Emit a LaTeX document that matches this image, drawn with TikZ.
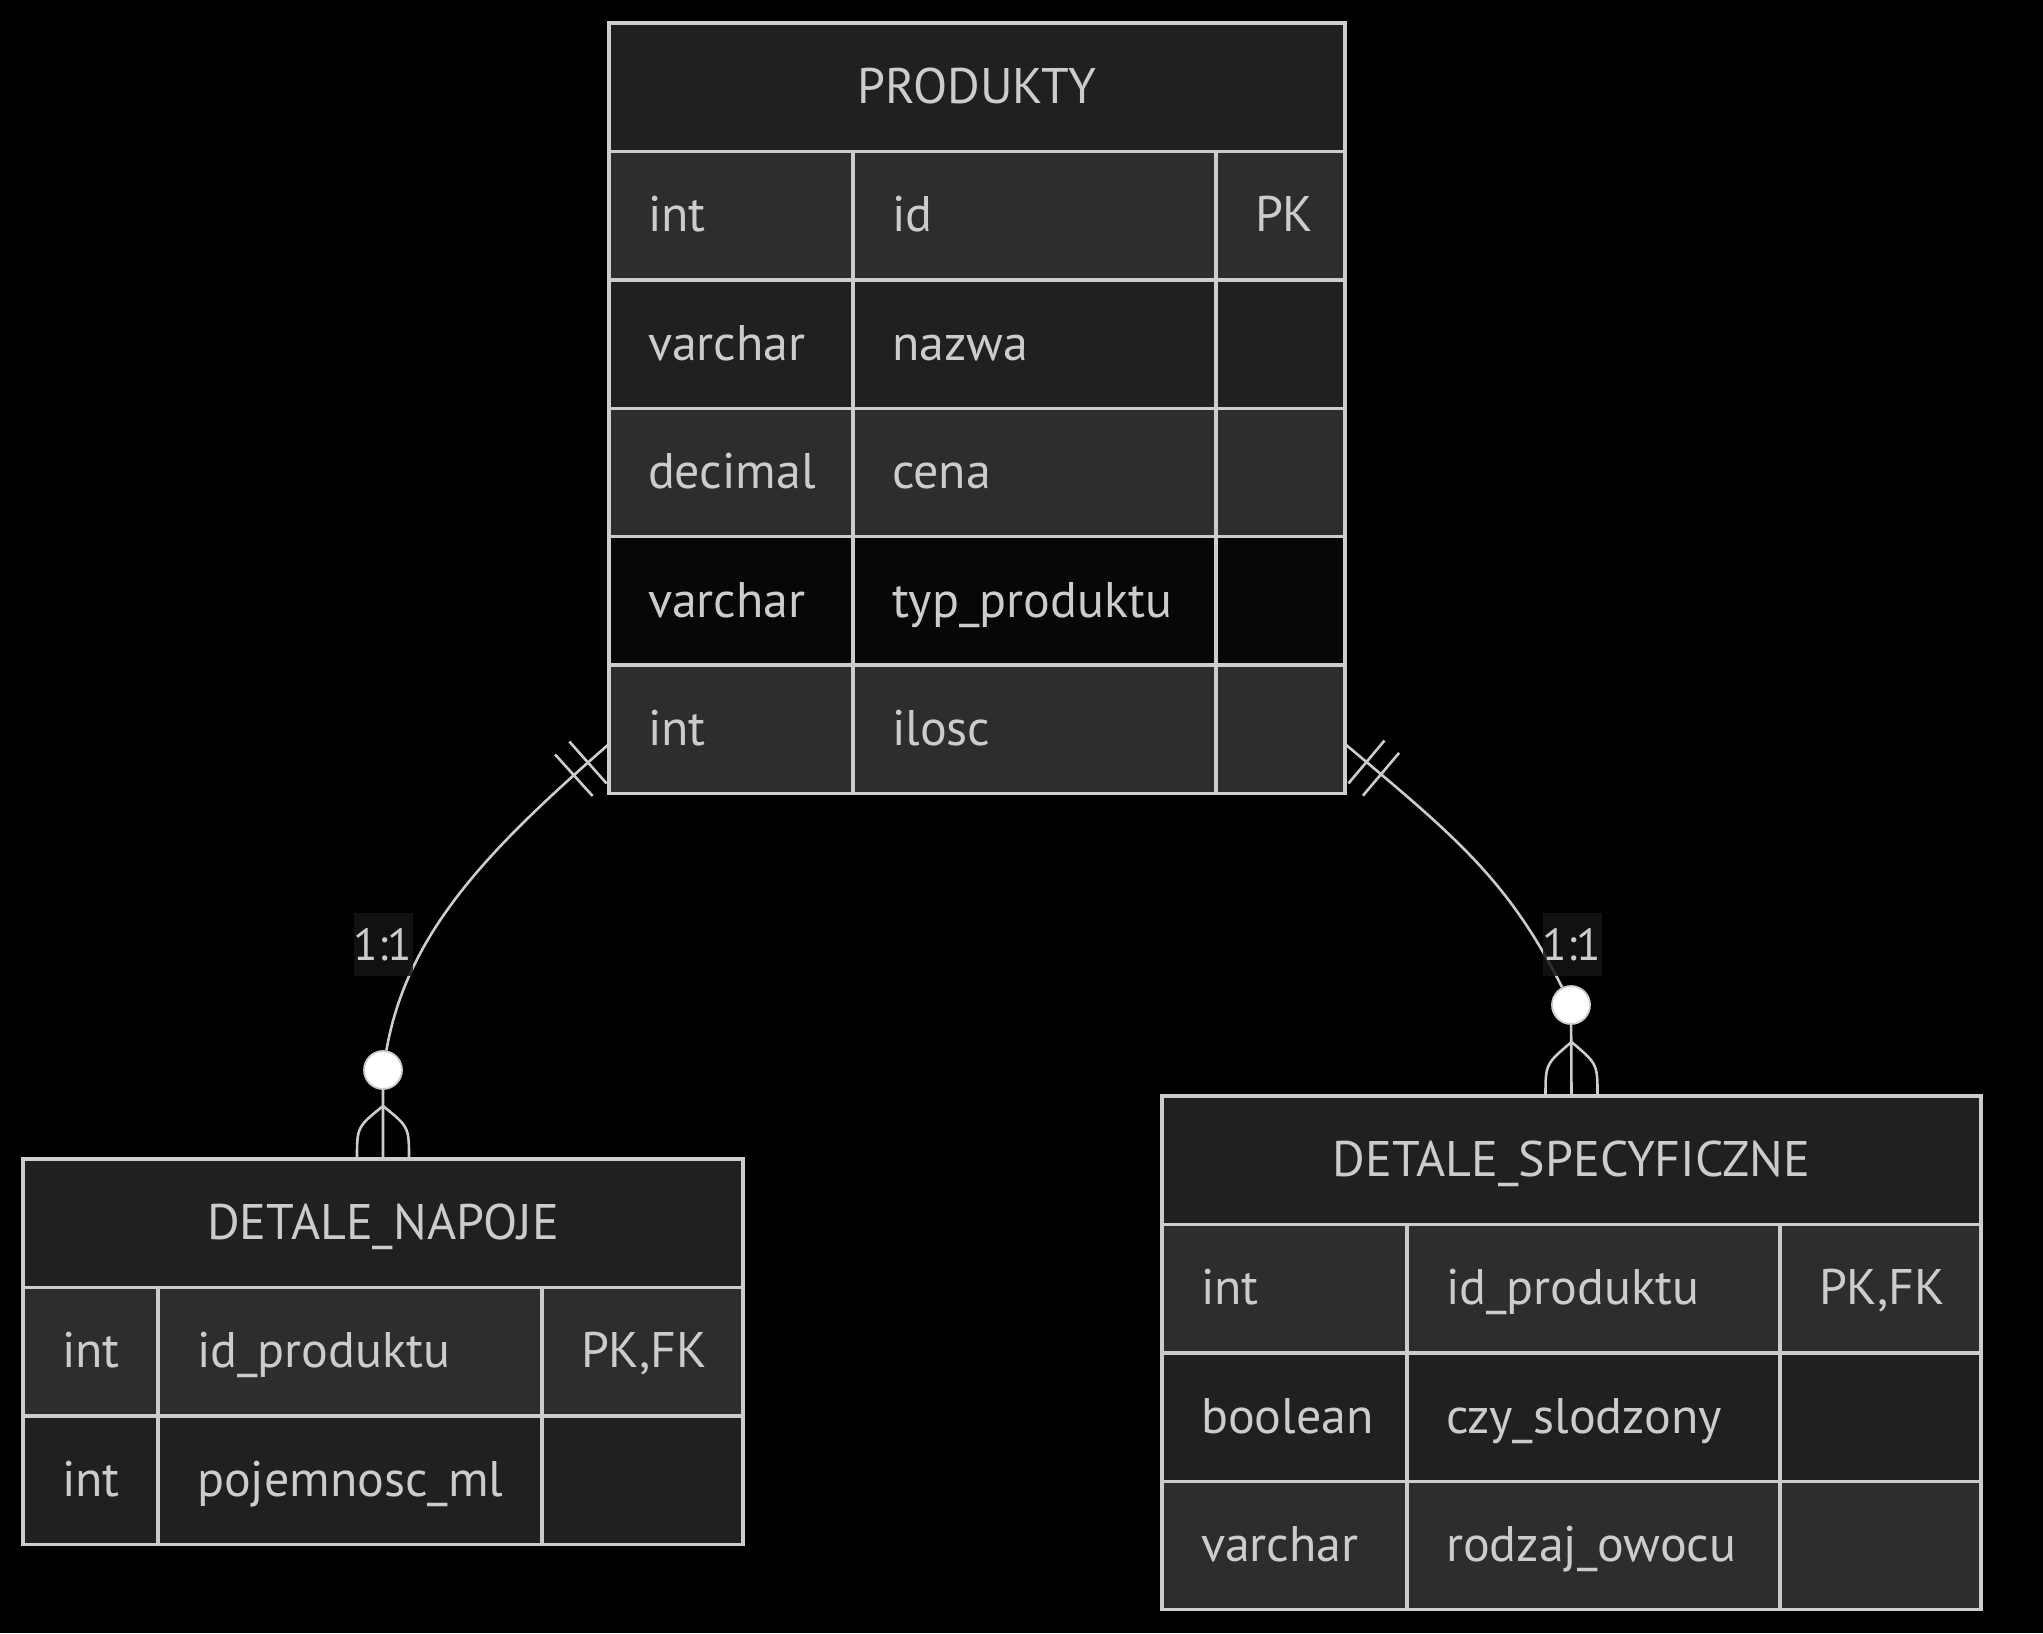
\documentclass[tikz,border=0pt]{standalone}
\usepackage{fontspec}
\setmainfont{PT Sans}
\usetikzlibrary{positioning}
\usetikzlibrary{decorations.markings}
\definecolor{linegray}{HTML}{CCCCCC}
\definecolor{rowlite}{HTML}{2C2D2D}
\definecolor{rowdark}{HTML}{1F2020}
\definecolor{rowblack}{HTML}{070707}
\definecolor{cardbg}{HTML}{141414}
\newcommand*{\erfont}{\fontsize{25pt}{30pt}\selectfont}
\newcommand*{\cardfont}{\fontsize{22.5pt}{27pt}\selectfont}

\begin{document}
\begin{tikzpicture}[x=0.5pt,y=-0.5pt]
        \tikzset{
          cell/.style={rectangle,draw=linegray,line width=1.7pt,outer sep=0pt,
            inner xsep=19.5pt,inner ysep=0pt,minimum height=64.2pt,
            text height=20pt,text depth=3.75pt,align=left,text=linegray,font=\erfont},
          head/.style={cell,fill=rowdark,align=center,anchor=north west},
          rel/.style={draw=linegray,line width=1.3pt},
          zero/.style={circle,draw=linegray,fill=white,line width=0.9pt,minimum size=19pt,inner sep=0pt},
          card/.style={fill=cardbg,fill opacity=0.85,text opacity=1,text=linegray,font=\cardfont,
            inner sep=0pt,minimum width=29.5pt,minimum height=31.5pt,text height=16pt,text depth=0pt},
          onlyone/.style={postaction={decorate,decoration={markings,
            mark=at position 14pt with {\draw[rel] (0pt,-14pt) -- (0pt,14pt);},
            mark=at position 23.5pt with {\draw[rel] (0pt,-14pt) -- (0pt,14pt);}}}}
        }

        \fill[black] (0,0) rectangle (2043,1633);
        \useasboundingbox (0,0) rectangle (2043,1633);

        % PRODUKTY
        \node[head,minimum width=368pt] (prod) at (609,23) {PRODUKTY};
        \foreach \ty/\nm/\ky/\fc [count=\i] in {int/id/PK/rowlite, varchar/nazwa//rowdark,
            decimal/cena//rowlite, varchar/typ\_produktu//rowblack, int/ilosc//rowlite} {
          \node[cell,fill=\fc,text width=83pt,anchor=north west] (prod-\i-1) at (609,{151.4+128.4*(\i-1)}) {\ty};
          \node[cell,fill=\fc,text width=142.5pt,right=0pt of prod-\i-1] (prod-\i-2) {\nm};
          \node[cell,fill=\fc,text width=25.5pt,right=0pt of prod-\i-2] (prod-\i-3) {\ky};
        }

        % DETALE_NAPOJE
        \node[head,minimum width=360pt] (nap) at (23,1159) {DETALE\_NAPOJE};
        \foreach \ty/\nm/\ky/\fc [count=\i] in {int/id\_produktu/{PK,FK}/rowlite, int/pojemnosc\_ml//rowdark} {
          \node[cell,fill=\fc,text width=28.5pt,anchor=north west] (nap-\i-1) at (23,{1287.4+128.4*(\i-1)}) {\ty};
          \node[cell,fill=\fc,text width=153pt,right=0pt of nap-\i-1] (nap-\i-2) {\nm};
          \node[cell,fill=\fc,text width=61.5pt,right=0pt of nap-\i-2] (nap-\i-3) {\ky};
        }

        % DETALE_SPECYFICZNE
        \node[head,minimum width=409.5pt] (spec) at (1162,1096) {DETALE\_SPECYFICZNE};
        \foreach \ty/\nm/\ky/\fc [count=\i] in {int/id\_produktu/{PK,FK}/rowlite,
            boolean/czy\_slodzony//rowdark, varchar/rodzaj\_owocu//rowlite} {
          \node[cell,fill=\fc,text width=83.5pt,anchor=north west] (spec-\i-1) at (1162,{1224.4+128.4*(\i-1)}) {\ty};
          \node[cell,fill=\fc,text width=147.5pt,right=0pt of spec-\i-1] (spec-\i-2) {\nm};
          \node[cell,fill=\fc,text width=61.5pt,right=0pt of spec-\i-2] (spec-\i-3) {\ky};
        }

        % relations
        \node[zero] (nap-zero) at (383,1070) {};
        \node[zero] (spec-zero) at (1571,1005) {};

        \draw[rel,onlyone] ([yshift=24.7pt]prod-5-1.south west) .. controls (490,848) and (407,932) .. (nap-zero) -- (nap.north);
        \draw[rel,onlyone] ([yshift=24.7pt]prod-5-3.south east) .. controls (1456,837) and (1508,880) .. (spec-zero) -- (spec.north);

        \draw[rel] ([yshift=26.5pt]nap.north) .. controls ([xshift=-13pt,yshift=16pt]nap.north) .. ([xshift=-13pt]nap.north);
        \draw[rel] ([yshift=26.5pt]nap.north) .. controls ([xshift=13pt,yshift=16pt]nap.north) .. ([xshift=13pt]nap.north);
        \draw[rel] ([yshift=27pt]spec.north) .. controls ([xshift=-13pt,yshift=16pt]spec.north) .. ([xshift=-13pt]spec.north);
        \draw[rel] ([yshift=27pt]spec.north) .. controls ([xshift=13pt,yshift=16pt]spec.north) .. ([xshift=13pt]spec.north);

        \node[card] (nap-card) at (383,944) {1:1};
        \node[card] (spec-card) at (1572,944) {1:1};
\end{tikzpicture}
\end{document}
